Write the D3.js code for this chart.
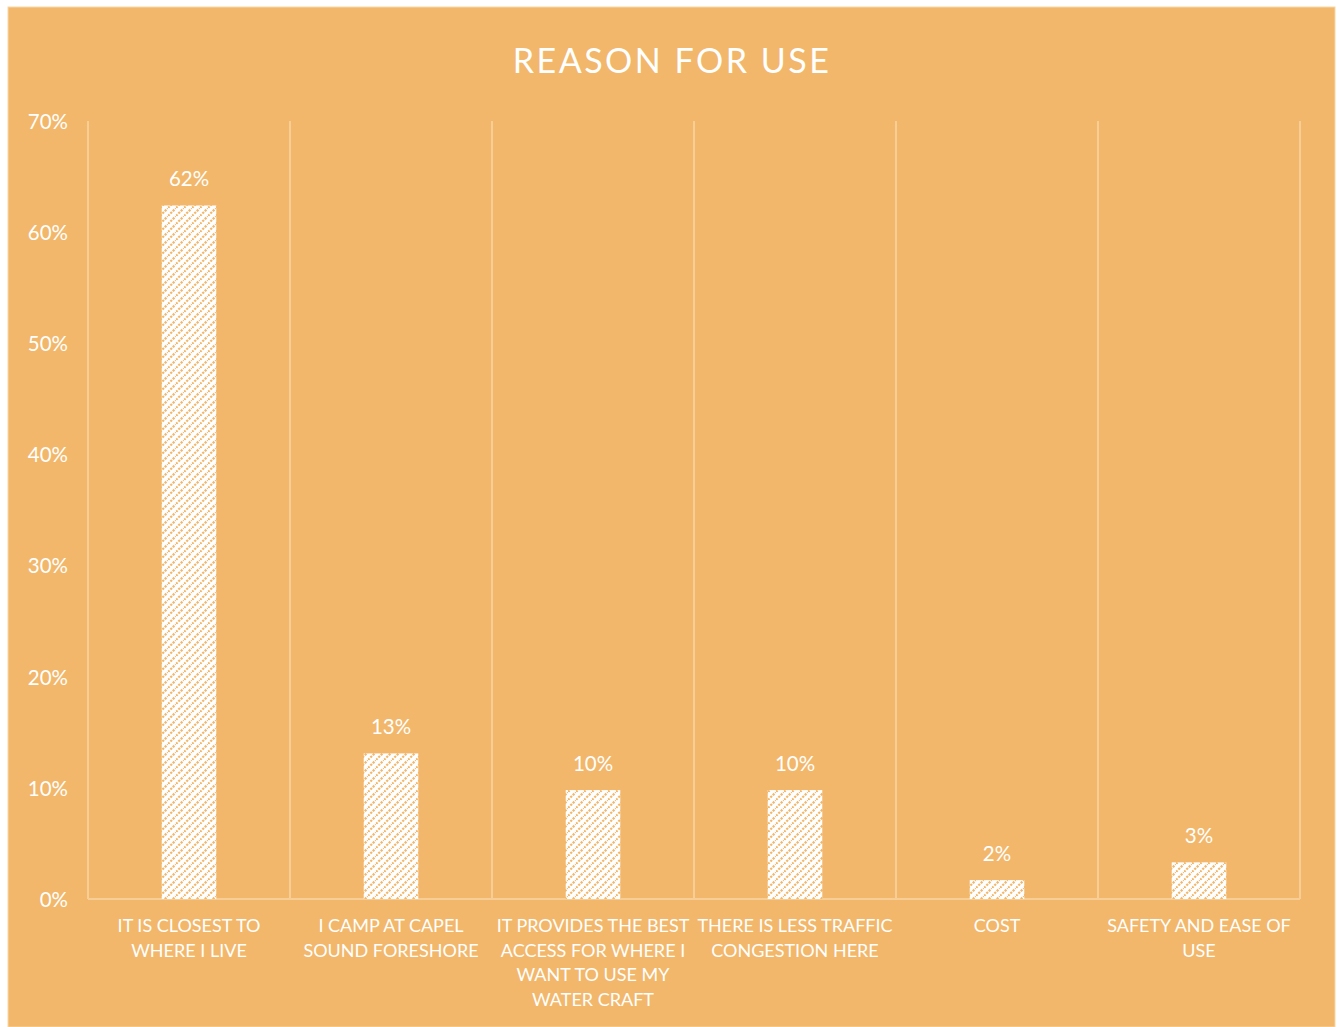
<!DOCTYPE html>
<html>
<head>
<meta charset="utf-8">
<script src="https://cdn.jsdelivr.net/npm/d3@7"></script>
<style>
  html, body { margin: 0; padding: 0; background: #ffffff; }
  svg { display: block; }
  text { font-family: Lato, "Liberation Sans", sans-serif; fill: #ffffff; }
</style>
</head>
<body>
<script>
// ---- data ----
const title = "REASON FOR USE";
const categories = [
  "IT IS CLOSEST TO\nWHERE I LIVE",
  "I CAMP AT CAPEL\nSOUND FORESHORE",
  "IT PROVIDES THE BEST\nACCESS FOR WHERE I\nWANT TO USE MY\nWATER CRAFT",
  "THERE IS LESS TRAFFIC\nCONGESTION HERE",
  "COST",
  "SAFETY AND EASE OF\nUSE"
];
const values = [0.624, 0.131, 0.098, 0.098, 0.017, 0.033];
const yTicks = [0, 0.1, 0.2, 0.3, 0.4, 0.5, 0.6, 0.7];

// ---- layout ----
const W = 1337, H = 1027;
const bg = "#F2B76A";
const gridColor = "#F6CE96";
const margin = { left: 88, right: 37, top: 121, bottom: 128 };

const svg = d3.select("body").append("svg").attr("width", W).attr("height", H);

// pattern
const defs = svg.append("defs");
const pat = defs.append("pattern")
  .attr("id", "diag")
  .attr("patternUnits", "userSpaceOnUse")
  .attr("width", 8).attr("height", 8);
pat.append("rect").attr("width", 8).attr("height", 8).attr("fill", "#ffffff");
pat.append("path")
  .attr("d", "M-2,2 L2,-2 M0,8 L8,0 M6,10 L10,6")
  .attr("stroke", bg).attr("stroke-width", 2.2)
  .attr("stroke-dasharray", "2.2 1.2");

svg.append("rect").attr("x", 8).attr("y", 7).attr("width", 1327).attr("height", H - 7)
  .attr("fill", bg).attr("stroke", "#F7D7A8").attr("stroke-width", 1);

const x = d3.scaleBand().domain(categories).range([margin.left, W - margin.right]).padding(0);
const y = d3.scaleLinear().domain([0, 0.7]).range([H - margin.bottom, margin.top]);

// vertical gridlines at band edges
const edges = categories.map(c => x(c)).concat([x(categories[categories.length - 1]) + x.bandwidth()]);
svg.append("g").selectAll("line").data(edges).join("line")
  .attr("x1", d => d).attr("x2", d => d)
  .attr("y1", y(0.7)).attr("y2", y(0))
  .attr("stroke", gridColor).attr("stroke-width", 2);

// x axis line
svg.append("line")
  .attr("x1", x.range()[0]).attr("x2", x.range()[1])
  .attr("y1", y(0)).attr("y2", y(0))
  .attr("stroke", gridColor).attr("stroke-width", 2);

// y axis labels
const fmt = d3.format(".0%");
const yAxis = d3.axisLeft(y).tickValues(yTicks).tickFormat(fmt).tickSize(0).tickPadding(20);
const ya = svg.append("g").attr("transform", `translate(${margin.left},0)`).call(yAxis);
ya.select(".domain").remove();
ya.selectAll("text").attr("fill", "#fff").style("font-size", "20.5px")
  .style("font-family", "Lato, sans-serif").attr("dy", "0.36em");

// bars
const barW = x.bandwidth() * 0.27;
svg.append("g").selectAll("rect").data(values).join("rect")
  .attr("x", (d, i) => x(categories[i]) + x.bandwidth() / 2 - barW / 2)
  .attr("width", barW)
  .attr("y", d => y(d))
  .attr("height", d => y(0) - y(d))
  .attr("fill", "url(#diag)");

// value labels
svg.append("g").selectAll("text").data(values).join("text")
  .attr("x", (d, i) => x(categories[i]) + x.bandwidth() / 2)
  .attr("y", d => y(d) - 19)
  .attr("text-anchor", "middle")
  .style("font-size", "20.5px")
  .text(d => fmt(d));

// category labels
const xl = svg.append("g").selectAll("text").data(categories).join("text")
  .attr("x", d => x(d) + x.bandwidth() / 2)
  .attr("y", y(0) + 33)
  .attr("text-anchor", "middle")
  .style("font-size", "18px");
xl.each(function(d) {
  const t = d3.select(this);
  d.split("\n").forEach((line, i) => {
    t.append("tspan").attr("x", t.attr("x")).attr("dy", i === 0 ? 0 : 24.7).text(line);
  });
});

// title
svg.append("text")
  .attr("x", 672).attr("y", 73)
  .attr("text-anchor", "middle")
  .style("font-size", "34px")
  .style("letter-spacing", "2.5px")
  .text(title);
</script>
</body>
</html>
